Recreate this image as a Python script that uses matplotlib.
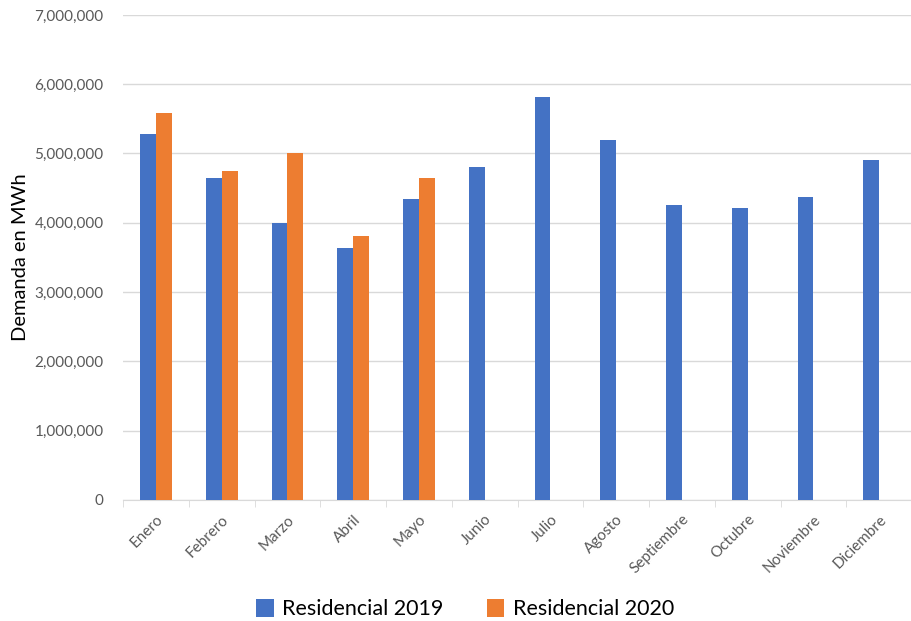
import numpy as np
import matplotlib
matplotlib.use("Agg")
import matplotlib.pyplot as plt
from matplotlib.ticker import FuncFormatter

plt.rcParams['font.family'] = ['Lato', 'DejaVu Sans']

meses = ["Enero", "Febrero", "Marzo", "Abril", "Mayo", "Junio", "Julio",
         "Agosto", "Septiembre", "Octubre", "Noviembre", "Diciembre"]
res_2019 = [5280000, 4640000, 4000000, 3640000, 4350000, 4810000, 5810000,
            5190000, 4260000, 4210000, 4370000, 4900000]
res_2020 = [5580000, 4740000, 5000000, 3810000, 4640000]

fig = plt.figure(figsize=(9.12, 6.21), dpi=100)
ax = fig.add_axes([0.135, 0.195, 0.865, 0.781])

x = np.arange(len(meses))
w = 0.24
ax.bar(x - w / 2, res_2019, w, color="#4472c4", label="Residencial 2019", zorder=3)
ax.bar(x[:len(res_2020)] + w / 2, res_2020, w, color="#ed7d31", label="Residencial 2020", zorder=3)

ax.set_xlim(-0.5, len(meses) - 0.5)
ax.set_ylim(0, 7000000)
ax.set_yticks(np.arange(0, 7000001, 1000000))
ax.yaxis.set_major_formatter(FuncFormatter(lambda v, p: f"{int(v):,}"))
ax.grid(axis="y", color="#d9d9d9", linewidth=1, zorder=0)

for s in ["top", "right", "left"]:
    ax.spines[s].set_visible(False)
ax.spines["bottom"].set_color("#d9d9d9")

ax.set_xticks(x)
ax.set_xticklabels(meses, rotation=45, ha="right", rotation_mode="anchor",
                   fontsize=11, color="#595959")
ax.set_xticks(np.arange(-0.5, len(meses)), minor=True)
ax.tick_params(axis="x", which="major", length=0, pad=9)
ax.tick_params(axis="x", which="minor", length=5, color="#d9d9d9")
ax.tick_params(axis="y", length=0, labelsize=11, labelcolor="#595959", pad=14)

ax.set_ylabel("Demanda en MWh", fontsize=14.5, labelpad=4)

fig.legend(loc="lower center", bbox_to_anchor=(0.51, -0.028), ncol=2, frameon=False,
           fontsize=15.5, handlelength=0.8, handleheight=0.9, columnspacing=2.0,
           handletextpad=0.4)

fig.savefig("out.png", dpi=100)
